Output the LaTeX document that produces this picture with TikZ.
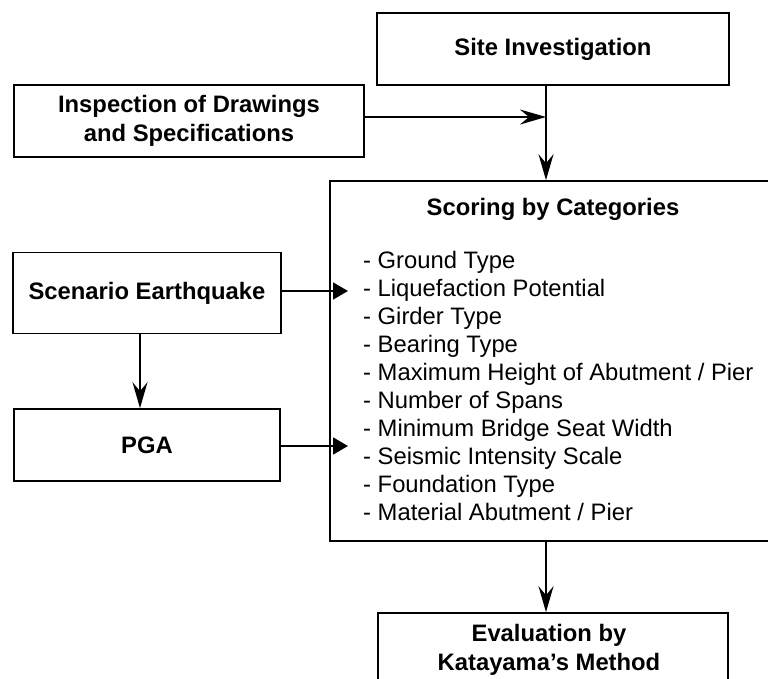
\documentclass[tikz,border=0pt]{standalone}
\usepackage{fontspec}
\setmainfont{Liberation Sans}
\usetikzlibrary{arrows.meta,positioning,calc}
\tikzset{
  flow/.style={-{Stealth[length=26pt,width=15pt,inset=9pt]},line width=1.6pt},
  flowtri/.style={-{Triangle[length=15pt,width=17pt]},line width=1.6pt},
  box/.style={draw,line width=1.6pt,inner sep=0pt,align=center,
              font=\fontsize{23.8}{29}\selectfont\bfseries},
  listtext/.style={inner sep=0pt,align=left,font=\fontsize{23.8}{28}\selectfont},
}
\begin{document}
\begin{tikzpicture}[x=1pt,y=-1pt]
  \useasboundingbox (0,0) rectangle (768,679);
  \clip (0,0) rectangle (768,679);
  % boxes
  \node[box,minimum width=352pt,minimum height=72pt] (site) at (553,49) {Site Investigation};
  \node[box,minimum width=350pt,minimum height=72pt] (insp) at (189,121) {Inspection of Drawings\\and Specifications};
  \node[box,minimum width=446pt,minimum height=360pt] (score) at (553,361) {};
  \node[box,draw=none] (scoretitle) at (553,209) {Scoring by Categories};
  \node[listtext,anchor=west] (scorelist) at (363,386) {%
    - Ground Type\\
    - Liquefaction Potential\\
    - Girder Type\\
    - Bearing Type\\
    - Maximum Height of Abutment / Pier\\
    - Number of Spans\\
    - Minimum Bridge Seat Width\\
    - Seismic Intensity Scale\\
    - Foundation Type\\
    - Material Abutment / Pier};
  \node[box,minimum width=268pt,minimum height=81pt] (scen) at (147,293) {Scenario Earthquake};
  \node[box,minimum width=266pt,minimum height=72pt] (pga) at (147,445) {PGA};
  \node[box,minimum width=350pt,minimum height=100pt] (eval) at (553,663) {};
  \node[box,draw=none] (evaltext) at (549,650) {Evaluation by\\Katayama's Method};
  % connectors
  \coordinate (join) at (546,117);
  \coordinate (scenin) at (348,291);
  \coordinate (pgain) at (348,446);
  \draw[line width=1.6pt] (site.south -| join) -- (join);
  \draw[flow] (insp.east |- join) -- (join);
  \draw[flow] (join) -- (score.north -| join);
  \draw[flowtri] (scen.east |- scenin) -- (scenin);
  \draw[flowtri] (pga.east |- pgain) -- (pgain);
  \draw[flow] ([xshift=-7pt]scen.south) -- ([xshift=-7pt]pga.north);
  \draw[flow] (score.south -| join) -- (eval.north -| join);
\end{tikzpicture}
\end{document}
